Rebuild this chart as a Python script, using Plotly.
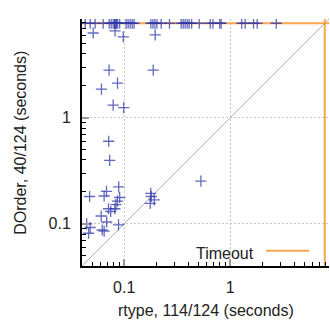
import math
import plotly.graph_objects as go

# ---- data (seconds) ----
TIMEOUT = 7.8
AX_MIN = 0.04
AX_MAX = 8.55

# instances solved by both: rtype time, DOrder time
solved_rtype = [0.051, 0.082, 0.098, 0.196, 0.072, 0.188, 0.0865, 0.061, 0.0787, 0.099,
                0.0714, 0.073, 0.0888, 0.0472, 0.0647, 0.0681, 0.0907, 0.0865, 0.0835, 0.0711,
                0.0746, 0.0817, 0.0607, 0.0684, 0.0443, 0.0478, 0.0884, 0.062, 0.0647, 0.0462,
                0.178, 0.180, 0.176, 0.192, 0.529]
solved_dorder = [6.31, 6.6, 5.79, 6.05, 2.82, 2.82, 2.12, 1.865, 1.316, 1.246,
                 0.601, 0.397, 0.223, 0.181, 0.183, 0.202, 0.177, 0.164, 0.152, 0.1387,
                 0.1307, 0.1387, 0.1185, 0.104, 0.100, 0.0923, 0.0978, 0.0874, 0.0855, 0.0815,
                 0.194, 0.181, 0.156, 0.168, 0.253]

# rtype times for instances where DOrder timed out
timeout_rtype = [0.0429, 0.0478, 0.0532, 0.0634, 0.0722, 0.0754, 0.0787, 0.0814, 0.0814, 0.0840,
                 0.0840, 0.0868, 0.0907, 0.1044, 0.109, 0.114, 0.119, 0.124, 0.1786, 0.1866,
                 0.1948, 0.2035, 0.2234, 0.2675, 0.345, 0.360, 0.376, 0.393, 0.410, 0.433,
                 0.510, 0.648, 0.687, 0.796, 0.822, 1.284, 1.385, 1.659, 1.797, 2.72]
timeout_dorder = [TIMEOUT] * len(timeout_rtype)

x_title = "rtype, 114/124 (seconds)"
y_title = "DOrder, 40/124 (seconds)"
legend_label = "Timeout"

major_vals = [0.1, 1]
major_text = ["0.1", "1"]
minor_vals = [0.05, 0.06, 0.07, 0.08, 0.09, 0.2, 0.3, 0.4, 0.5, 0.6, 0.7, 0.8, 0.9,
              2, 3, 4, 5, 6, 7, 8]

ORANGE = "rgba(247,150,50,0.85)"
BLUE = "rgba(45,55,170,0.75)"
FONT = "Liberation Sans, Arial, sans-serif"
TXT = "#222222"

fig = go.Figure()

# diagonal
fig.add_trace(go.Scatter(x=[AX_MIN, AX_MAX], y=[AX_MIN, AX_MAX], mode="lines",
                         line=dict(color="#b0b0b0", width=1), showlegend=False, hoverinfo="skip"))
# timeout lines
fig.add_trace(go.Scatter(x=[AX_MIN, AX_MAX], y=[TIMEOUT, TIMEOUT], mode="lines",
                         line=dict(color=ORANGE, width=2), showlegend=False, hoverinfo="skip"))
fig.add_trace(go.Scatter(x=[TIMEOUT, TIMEOUT], y=[AX_MIN, AX_MAX], mode="lines",
                         line=dict(color=ORANGE, width=2), showlegend=False, hoverinfo="skip"))

marker = dict(symbol="cross-thin", size=8, color=BLUE, line=dict(color=BLUE, width=1.3))
fig.add_trace(go.Scatter(x=solved_rtype, y=solved_dorder, mode="markers", marker=marker,
                         showlegend=False))
fig.add_trace(go.Scatter(x=timeout_rtype, y=timeout_dorder, mode="markers", marker=marker,
                         showlegend=False))

axis_common = dict(
    type="log",
    range=[math.log10(AX_MIN), math.log10(AX_MAX)],
    tickmode="array", tickvals=major_vals, ticktext=major_text,
    ticks="inside", ticklen=7, tickwidth=2, tickcolor="#999999",
    showgrid=True, gridcolor="#c8c8c8", griddash="2px,2px", gridwidth=1,
    showline=True, linecolor="black", linewidth=2, zeroline=False, mirror=False,
    tickfont=dict(family=FONT, size=16, color=TXT),
    automargin=False,
    minor=dict(tickmode="array", tickvals=minor_vals, ticks="inside", ticklen=4,
               tickcolor="black", tickwidth=1, showgrid=False),
)

fig.update_xaxes(**axis_common, ticklabelstandoff=6)
fig.update_yaxes(**axis_common, ticklabelstandoff=6)

# axis titles
fig.add_annotation(xref="paper", yref="paper", x=0.5, y=-0.182, text=x_title,
                   showarrow=False, xanchor="center", yanchor="middle",
                   font=dict(family=FONT, size=16, color=TXT))
fig.add_annotation(xref="paper", yref="paper", x=-0.25, y=0.5, text=y_title, textangle=-90,
                   showarrow=False, xanchor="center", yanchor="middle",
                   font=dict(family=FONT, size=16, color=TXT))

# legend drawn inside the plot: label then line sample
fig.add_annotation(xref="paper", yref="paper", x=0.705, y=0.05, text=legend_label,
                   showarrow=False, xanchor="right", yanchor="middle",
                   font=dict(family=FONT, size=16, color=TXT))
fig.add_shape(type="line", xref="paper", yref="paper", x0=0.745, x1=0.92, y0=0.062, y1=0.062,
              line=dict(color=ORANGE, width=2))

fig.update_layout(width=330, height=324, margin=dict(l=82, r=1, t=19, b=58),
                  plot_bgcolor="white", paper_bgcolor="white", showlegend=False,
                  font=dict(family=FONT))

fig.write_html("out.html", config={"displayModeBar": False},
               post_script="document.body.style.margin='0px';")
